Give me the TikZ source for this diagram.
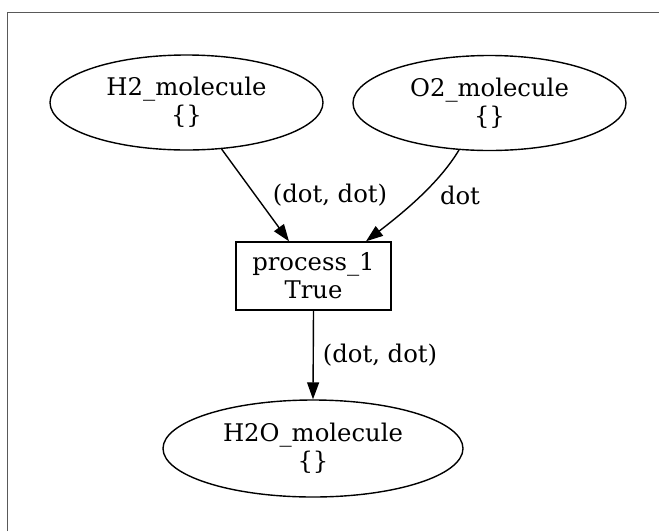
\documentclass[tikz,border=0pt]{standalone}
\usepackage{fontspec}
\setmainfont{DejaVu Serif}
\usetikzlibrary{shapes.geometric,arrows.meta}
\definecolor{framegray}{gray}{0.35}
\begin{document}
\begin{tikzpicture}[x=1pt,y=-1pt,
  every node/.style={font=\fontsize{24.3}{28}\selectfont},
  molecule/.style={ellipse,draw,line width=1.4pt,inner sep=0pt,align=center},
  procbox/.style={rectangle,draw,line width=1.4pt,inner sep=0pt,align=center,minimum width=155pt,minimum height=68pt},
  conn/.style={line width=1.4pt,-{Triangle[length=17pt,width=12pt]}},
  elabel/.style={inner sep=0pt}]
\useasboundingbox (0,0) rectangle (659,531);
\draw[framegray,line width=1.4pt] (7.3,531) -- (7.3,12.3) -- (659,12.3);
\node[molecule,minimum width=273pt,minimum height=95pt] (h2) at (186.5,102.5) {H2\_molecule\\\{\}};
\node[molecule,minimum width=273pt,minimum height=95pt] (o2) at (489.5,103) {O2\_molecule\\\{\}};
\node[procbox] (p1) at (313.5,276) {process\_1\\True};
\node[molecule,minimum width=300pt,minimum height=97pt] (h2o) at (313,448.5) {H2O\_molecule\\\{\}};
\coordinate (p1inA) at ([xshift=-24.5pt]p1.north);
\coordinate (p1inB) at ([xshift=52.5pt]p1.north);
\draw[conn] (h2.-53) -- (p1inA);
\draw[conn] (o2.-123) .. controls (438,185) and (400,215) .. (p1inB);
\draw[conn] (p1.south) -- (h2o.north);
\node[elabel] (l1) at (330,195) {(dot, dot)};
\node[elabel] (l2) at (460,195) {dot};
\node[elabel] (l3) at (380,355) {(dot, dot)};
\end{tikzpicture}
\end{document}
